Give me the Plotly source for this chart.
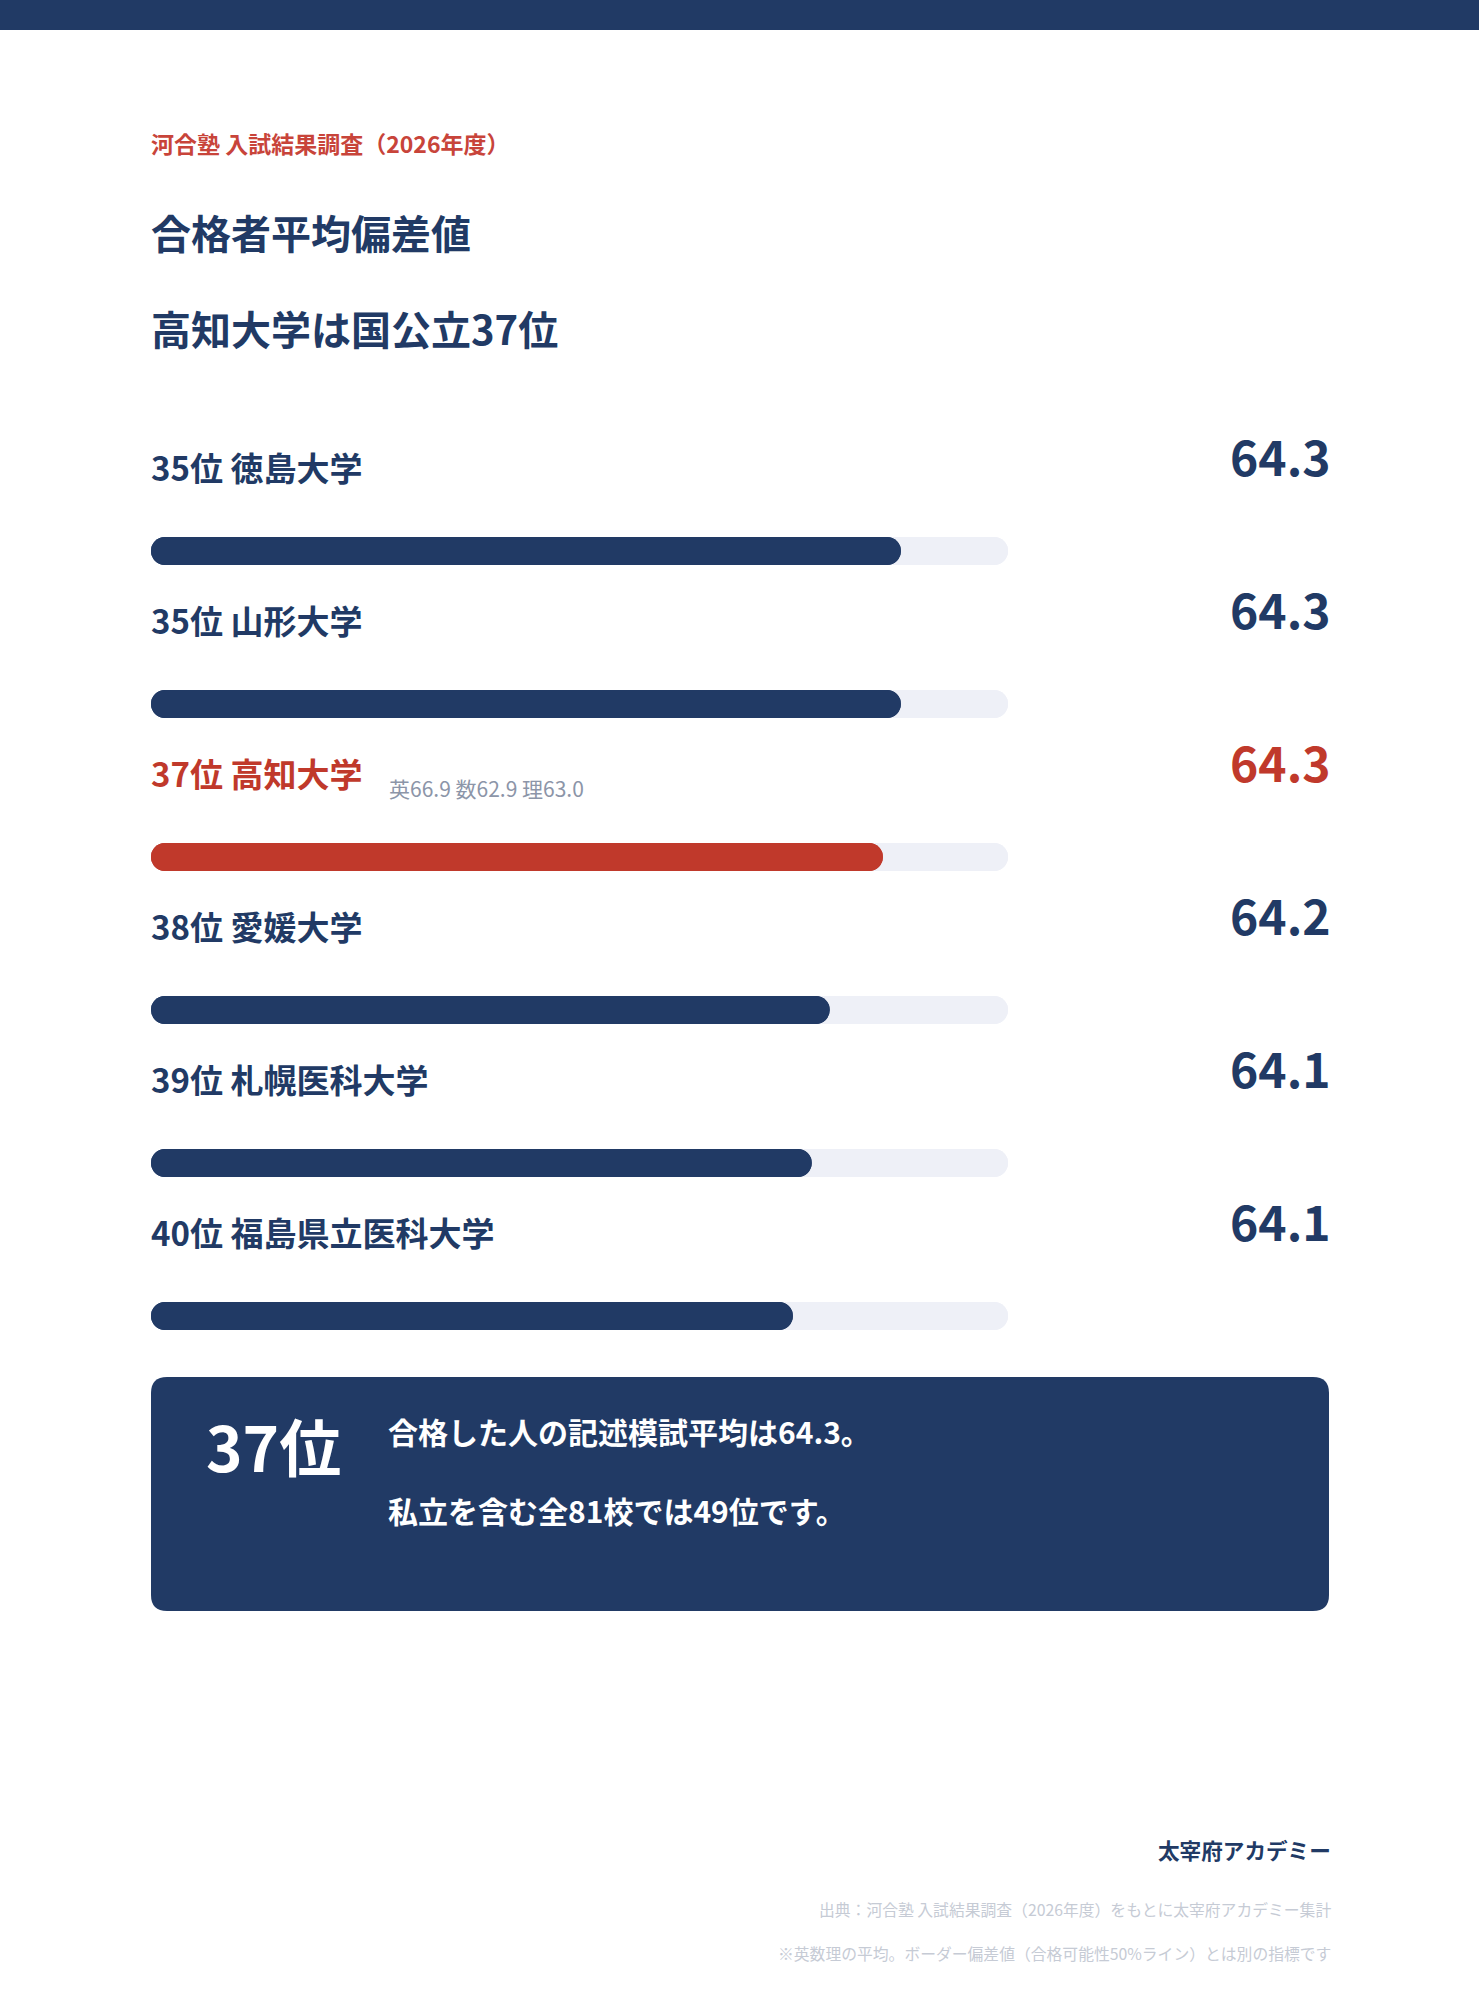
import plotly.graph_objects as go

# ---------------- data ----------------
ranks = [35, 35, 37, 38, 39, 40]
universities = ["徳島大学", "山形大学", "高知大学", "愛媛大学", "札幌医科大学", "福島県立医科大学"]
scores = [64.3, 64.3, 64.3, 64.2, 64.1, 64.1]
# bar fill length (% of the track)
bar_fill_pct = [87.5, 87.5, 85.4, 79.2, 77.1, 74.9]
track_pct = 100
highlight = "高知大学"
subject_names = ["英", "数", "理"]
highlight_subject_scores = [66.9, 62.9, 63.0]

kicker = "河合塾 入試結果調査（2026年度）"
title_1 = "合格者平均偏差値"
title_2 = "高知大学は国公立37位"
summary_rank = "37位"
summary_line_1 = "合格した人の記述模試平均は64.3。"
summary_line_2 = "私立を含む全81校では49位です。"
brand = "太宰府アカデミー"
source_1 = "出典：河合塾 入試結果調査（2026年度）をもとに太宰府アカデミー集計"
source_2 = "※英数理の平均。ボーダー偏差値（合格可能性50%ライン）とは別の指標です"

# ---------------- style ----------------
W, H = 1479, 2000
NAVY = "#213a65"
RED = "#c0392b"
KICKER_RED = "#c8443a"
TRACK = "#eef0f7"
GRAY = "#8c95a8"
LIGHT = "#c6cbd5"
FONT = "Noto Sans CJK JP"

ROW_TOP = 551      # pixel centre of first bar
ROW_STEP = 153     # pixel distance between rows
BAR_PX = 28
LEFT = 149         # left text edge (px)
RIGHT = 1333       # right text edge (px)

def px(x):
    return x / W

def py(y):
    return 1 - y / H

n = len(universities)
rows = list(range(n))
colors = [RED if u == highlight else NAVY for u in universities]

fig = go.Figure()

bw = BAR_PX / ROW_STEP

def rounded_bar(lengths, color):
    # two overlapping bars (one growing right, one growing left) so both ends are rounded
    fig.add_trace(go.Bar(y=rows, x=lengths, base=[0] * n, orientation="h", width=bw,
                         marker=dict(color=color, cornerradius="50%", line=dict(width=0)),
                         hoverinfo="skip", showlegend=False))
    fig.add_trace(go.Bar(y=rows, x=[-v for v in lengths], base=lengths, orientation="h", width=bw,
                         marker=dict(color=color, cornerradius="50%", line=dict(width=0)),
                         hoverinfo="skip", showlegend=False))

rounded_bar([track_pct] * n, TRACK)
rounded_bar(bar_fill_pct, colors)

ann = []

def add_text(text, x, y, size, color, weight=700, xanchor="left", yref="paper", yshift=0):
    ann.append(dict(text=text, x=x, y=y, xref="paper", yref=yref, xanchor=xanchor,
                    yanchor="middle", yshift=yshift, showarrow=False,
                    font=dict(family=FONT, size=size, color=color, weight=weight)))

# header
add_text(kicker, px(LEFT), py(143), 23, KICKER_RED, 700)
add_text(title_1, px(LEFT), py(232), 40, NAVY, 700)
add_text(title_2, px(LEFT), py(328), 40, NAVY, 700)

# rows
for i, (r, u, s, c) in enumerate(zip(ranks, universities, scores, colors)):
    add_text(f"{r}位 {u}", px(LEFT), i, 33, c, 700, yref="y", yshift=84)
    add_text(f"{s:.1f}", px(RIGHT), i, 48, c, 700, xanchor="right", yref="y", yshift=96)
    if u == highlight:
        sub = " ".join(f"{nm}{v:.1f}" for nm, v in zip(subject_names, highlight_subject_scores))
        add_text(sub, px(387), i, 21, GRAY, 400, yref="y", yshift=69)

# summary box text
add_text(summary_rank, px(204), py(1445), 62, "white", 700)
add_text(summary_line_1, px(386), py(1431), 30, "white", 700)
add_text(summary_line_2, px(386), py(1510), 30, "white", 700)

# footer
add_text(brand, px(RIGHT), py(1849), 21.6, NAVY, 700, xanchor="right")
add_text(source_1, px(RIGHT), py(1909), 15.8, LIGHT, 400, xanchor="right")
add_text(source_2, px(RIGHT), py(1953), 15.8, LIGHT, 400, xanchor="right")

# shapes: top band and rounded summary box
def rounded_rect(x0, y0, x1, y1, r):
    rx, ry = r / W, r / H
    X0, X1 = px(x0), px(x1)
    Y0, Y1 = py(y0), py(y1)  # Y0 top, Y1 bottom
    return (f"M {X0 + rx},{Y0} L {X1 - rx},{Y0} Q {X1},{Y0} {X1},{Y0 - ry} "
            f"L {X1},{Y1 + ry} Q {X1},{Y1} {X1 - rx},{Y1} "
            f"L {X0 + rx},{Y1} Q {X0},{Y1} {X0},{Y1 + ry} "
            f"L {X0},{Y0 - ry} Q {X0},{Y0} {X0 + rx},{Y0} Z")

shapes = [
    dict(type="rect", xref="paper", yref="paper", x0=0, x1=1, y0=py(30), y1=1,
         fillcolor=NAVY, line=dict(width=0), layer="below"),
    dict(type="path", xref="paper", yref="paper", path=rounded_rect(151, 1377, 1329, 1611, 16),
         fillcolor=NAVY, line=dict(width=0), layer="below"),
]

y_top = -ROW_TOP / ROW_STEP
y_bot = (H - ROW_TOP) / ROW_STEP

fig.update_layout(
    width=W, height=H,
    margin=dict(l=0, r=0, t=0, b=0),
    paper_bgcolor="white", plot_bgcolor="rgba(0,0,0,0)",
    barmode="overlay",
    xaxis=dict(domain=[px(151), px(1008)], range=[0, track_pct], visible=False, fixedrange=True),
    yaxis=dict(domain=[0, 1], range=[y_bot, y_top], visible=False, fixedrange=True),
    annotations=ann, shapes=shapes,
    showlegend=False,
)

fig.write_html("out.html", config={"displayModeBar": False},
               post_script="document.body.style.margin='0';")
